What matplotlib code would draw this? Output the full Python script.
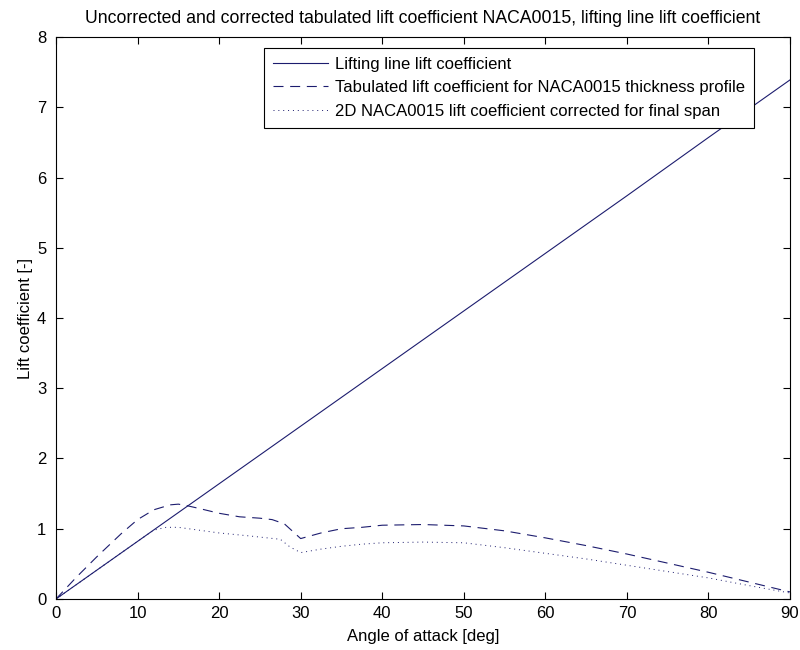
import matplotlib
matplotlib.use("Agg")
import matplotlib.pyplot as plt

plt.rcParams["font.family"] = ["Liberation Sans", "DejaVu Sans"]

# Lifting line lift coefficient
alpha_ll = [0, 10, 20, 30, 40, 50, 60, 70, 80, 90]
cl_ll = [0, 0.82, 1.64, 2.46, 3.28, 4.10, 4.92, 5.74, 6.57, 7.39]

# Tabulated NACA0015
alpha_tab = [0, 2.5, 5, 8, 10, 12, 14, 15, 16, 17.5, 20, 22.5, 25, 26.5, 28,
             30, 32.5, 35, 37.5, 40, 45, 50, 55, 60, 65, 70, 75, 80, 85, 90]
cl_tab = [0, 0.31, 0.60, 0.93, 1.13, 1.27, 1.34, 1.35, 1.33, 1.29, 1.22, 1.17,
          1.15, 1.13, 1.07, 0.86, 0.94, 1.00, 1.02, 1.05, 1.06, 1.04, 0.97,
          0.87, 0.76, 0.64, 0.51, 0.38, 0.24, 0.10]

# 2D corrected for final span
alpha_cor = [0, 5, 10, 12, 13.5, 15, 17.5, 20, 23.5, 27.5, 28.7, 30, 32.5,
             35, 37.5, 40, 45, 50, 55, 60, 65, 70, 75, 80, 85, 90]
cl_cor = [0, 0.41, 0.82, 0.98, 1.02, 1.02, 0.98, 0.94, 0.90, 0.85, 0.74, 0.66,
          0.71, 0.75, 0.78, 0.80, 0.81, 0.80, 0.73, 0.65, 0.57, 0.48, 0.39,
          0.30, 0.19, 0.085]

color = "#1c1c6e"
fs = 12

fig = plt.figure(figsize=(8, 6.5), dpi=100)
ax = fig.add_axes([0.07, 0.0785, 0.9175, 0.8645])

ax.plot(alpha_ll, cl_ll, color=color, linewidth=0.8,
        label="Lifting line lift coefficient")
ax.plot(alpha_tab, cl_tab, color=color, linewidth=0.8,
        linestyle=(0, (9, 6)),
        label="Tabulated lift coefficient for NACA0015 thickness profile")
ax.plot(alpha_cor, cl_cor, color=color, linewidth=0.7,
        linestyle=(0, (1, 4)),
        label="2D NACA0015 lift coefficient corrected for final span")

ax.set_xlim(0, 90)
ax.set_ylim(0, 8)
ax.set_xticks(range(0, 91, 10))
ax.set_yticks(range(0, 9))
ax.tick_params(direction="in", top=True, right=True, length=5,
               labelsize=fs)
ax.tick_params(axis="x", pad=5)
ax.tick_params(axis="y", pad=7)
for s in ax.spines.values():
    s.set_linewidth(0.8)

ax.set_xlabel("Angle of attack [deg]", fontsize=fs, labelpad=6)
ax.set_ylabel("Lift coefficient [-]", fontsize=fs, labelpad=3)
ax.set_title(
    "Uncorrected and corrected tabulated lift coefficient NACA0015, "
    "lifting line lift coefficient",
    fontsize=12.7, pad=10)

leg = ax.legend(loc="upper right", bbox_to_anchor=(0.951, 0.981),
                fontsize=fs, handlelength=3.3, handletextpad=0.42,
                borderpad=0.55, labelspacing=0.5, borderaxespad=0,
                fancybox=False, framealpha=1, edgecolor="black")
leg.get_frame().set_linewidth(0.8)

fig.savefig("out.png", dpi=100)
plt.close()
